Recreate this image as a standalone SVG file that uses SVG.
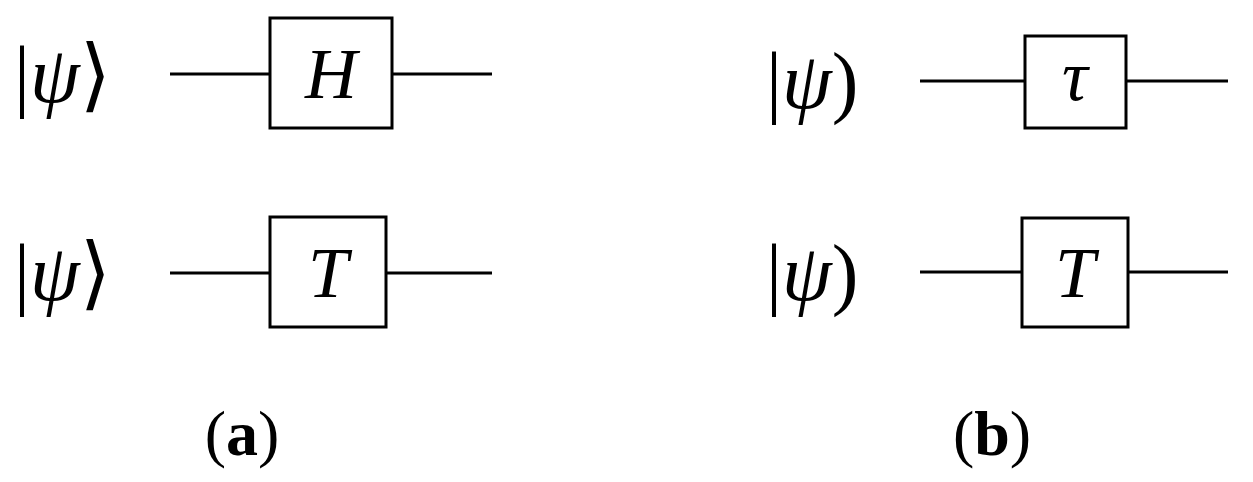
<svg xmlns="http://www.w3.org/2000/svg" width="1253" height="482" viewBox="0 0 1253 482">
<style>
.w{stroke:#000;stroke-width:3;fill:none}
.b{stroke:#000;stroke-width:3;fill:#fff}
.k{font-family:"Liberation Serif","DejaVu Serif",serif;font-size:80px;fill:#000}
.g{font-family:"Liberation Serif","DejaVu Serif",serif;font-style:italic;font-size:72px;fill:#000}
.l{font-family:"Liberation Serif","DejaVu Serif",serif;font-size:64px;fill:#000}
</style>
<rect width="1253" height="482" fill="#fff"/>
<g id="connectors">
<line class="w" x1="170" y1="74" x2="270" y2="74"/><line class="w" x1="392" y1="74" x2="492" y2="74"/>
<line class="w" x1="170" y1="273" x2="270" y2="273"/><line class="w" x1="386" y1="273" x2="492" y2="273"/>
<line class="w" x1="920" y1="81" x2="1025" y2="81"/><line class="w" x1="1126" y1="81" x2="1228" y2="81"/>
<line class="w" x1="920" y1="272" x2="1022" y2="272"/><line class="w" x1="1128" y1="272" x2="1228" y2="272"/>
</g>
<g id="ket-a1"><text class="k" x="14" y="102">|<tspan font-style="italic">ψ</tspan>⟩</text></g>
<g id="ket-a2"><text class="k" x="14" y="300">|<tspan font-style="italic">ψ</tspan>⟩</text></g>
<g id="ket-b1"><text class="k" x="766" y="108">|<tspan font-style="italic">ψ</tspan>)</text></g>
<g id="ket-b2"><text class="k" x="766" y="300">|<tspan font-style="italic">ψ</tspan>)</text></g>
<g id="gate-H"><rect class="b" x="270" y="18" width="122" height="110"/><text class="g" x="331" y="98" text-anchor="middle">H</text></g>
<g id="gate-T1"><rect class="b" x="270" y="217" width="116" height="110"/><text class="g" x="328" y="297" text-anchor="middle">T</text></g>
<g id="gate-tau"><rect class="b" x="1025" y="36" width="101" height="92"/><text class="g" x="1075" y="100" text-anchor="middle">τ</text></g>
<g id="gate-T2"><rect class="b" x="1022" y="218" width="106" height="109"/><text class="g" x="1075" y="297" text-anchor="middle">T</text></g>
<g id="label-a"><text class="l" x="242" y="455" text-anchor="middle">(<tspan font-weight="bold">a</tspan>)</text></g>
<g id="label-b"><text class="l" x="992" y="455" text-anchor="middle">(<tspan font-weight="bold">b</tspan>)</text></g>
</svg>
